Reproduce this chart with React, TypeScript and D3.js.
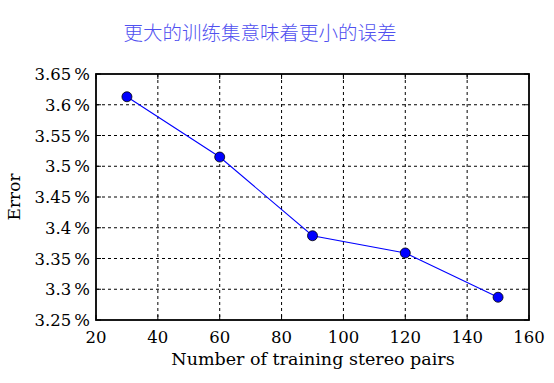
import React from "react";
import * as d3 from "d3";

const xValues = [30, 60, 90, 120, 150];
const errorValues = [3.613, 3.515, 3.387, 3.359, 3.287];
const xTicks = [20, 40, 60, 80, 100, 120, 140, 160];
const yTicks = [3.25, 3.3, 3.35, 3.4, 3.45, 3.5, 3.55, 3.6, 3.65];
const title = "更大的训练集意味着更小的误差";
const xLabel = "Number of training stereo pairs";
const yLabel = "Error";

const W = 554;
const H = 383;
const m = { left: 96, right: 529, top: 74, bottom: 320 };
const tickFont = "'DejaVu Serif', serif";

export default function App() {
  const x = d3.scaleLinear().domain([20, 160]).range([m.left, m.right]);
  const y = d3.scaleLinear().domain([3.25, 3.65]).range([m.bottom, m.top]);
  const line = d3
    .line<number>()
    .x((_, i) => x(xValues[i]))
    .y((d) => y(d));
  const fmt = (v: number) => String(+v.toFixed(2));

  return (
    <svg
      width={W}
      height={H}
      style={{ position: "absolute", left: 0, top: 0, background: "#fff" }}
    >
      <rect x={0} y={0} width={W} height={H} fill="#fff" />
      <text
        x={260}
        y={40}
        textAnchor="middle"
        fontSize={19.5}
        fill="#5050f0"
        fontFamily="'Noto Sans CJK SC', sans-serif"
        fontWeight={300}
      >
        {title}
      </text>
      {/* grid */}
      {xTicks.slice(1, -1).map((t) => (
        <line
          key={"gx" + t}
          x1={x(t)}
          x2={x(t)}
          y1={m.top}
          y2={m.bottom}
          stroke="#000"
          strokeWidth={1}
          strokeDasharray="3,3"
        />
      ))}
      {yTicks.slice(1, -1).map((t) => (
        <line
          key={"gy" + t}
          x1={m.left}
          x2={m.right}
          y1={y(t)}
          y2={y(t)}
          stroke="#000"
          strokeWidth={1}
          strokeDasharray="3,3"
        />
      ))}
      {/* inner ticks */}
      {xTicks.map((t) => (
        <g key={"tx" + t}>
          <line x1={x(t)} x2={x(t)} y1={m.bottom} y2={m.bottom - 5} stroke="#000" />
          <line x1={x(t)} x2={x(t)} y1={m.top} y2={m.top + 5} stroke="#000" />
        </g>
      ))}
      {yTicks.map((t) => (
        <g key={"ty" + t}>
          <line x1={m.left} x2={m.left + 5} y1={y(t)} y2={y(t)} stroke="#000" />
          <line x1={m.right} x2={m.right - 5} y1={y(t)} y2={y(t)} stroke="#000" />
        </g>
      ))}
      {/* frame */}
      <rect
        x={m.left}
        y={m.top}
        width={m.right - m.left}
        height={m.bottom - m.top}
        fill="none"
        stroke="#000"
        strokeWidth={1.8}
      />
      {/* data */}
      <path d={line(errorValues) || ""} fill="none" stroke="#0000ff" strokeWidth={1.1} />
      {errorValues.map((v, i) => (
        <circle
          key={"p" + i}
          cx={x(xValues[i])}
          cy={y(v)}
          r={5}
          fill="#0000ff"
          stroke="#000"
          strokeWidth={0.8}
        />
      ))}
      {/* tick labels */}
      {yTicks.map((t) => (
        <text
          key={"ly" + t}
          x={90}
          y={y(t) + 6}
          textAnchor="end"
          fontSize={16.5}
          fontFamily={tickFont}
          fill="#000"
        >
          {fmt(t)}
          <tspan dx={3}>%</tspan>
        </text>
      ))}
      {xTicks.map((t) => (
        <text
          key={"lx" + t}
          x={x(t)}
          y={m.bottom + 23}
          textAnchor="middle"
          fontSize={16.5}
          fontFamily={tickFont}
          fill="#000"
        >
          {t}
        </text>
      ))}
      <text
        x={313}
        y={365}
        textAnchor="middle"
        fontSize={17.5}
        fontFamily={tickFont}
        fill="#000"
      >
        {xLabel}
      </text>
      <text
        transform={`translate(20,${(m.top + m.bottom) / 2}) rotate(-90)`}
        textAnchor="middle"
        fontSize={17}
        fontFamily={tickFont}
        fill="#000"
      >
        {yLabel}
      </text>
    </svg>
  );
}
